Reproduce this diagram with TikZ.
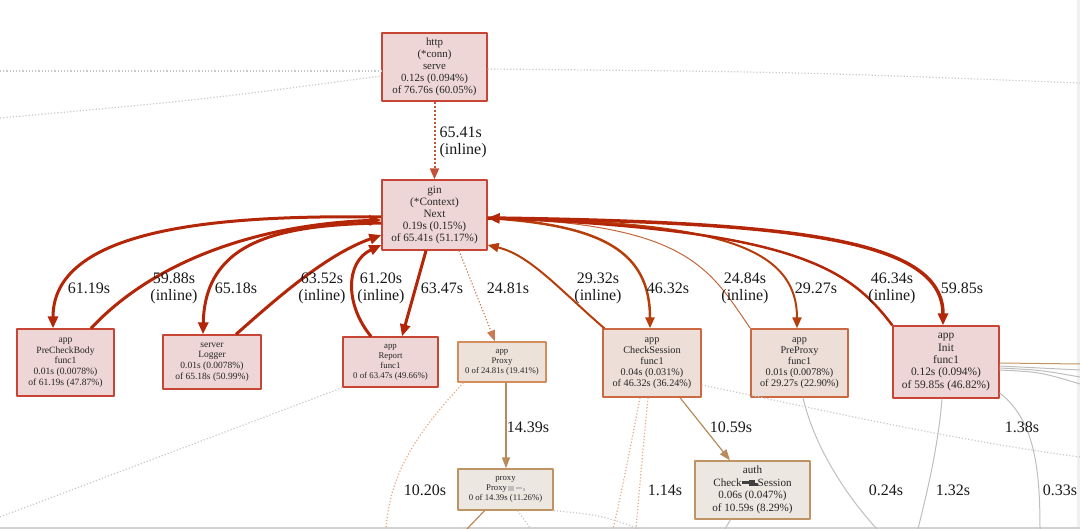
\documentclass[tikz,border=0pt]{standalone}
\usepackage{fontspec}
\setmainfont{Liberation Serif}
\usetikzlibrary{arrows.meta, calc}

\definecolor{hotfill}{RGB}{237,214,213}
\definecolor{hotline}{RGB}{200,68,52}
\definecolor{hotedge}{RGB}{180,38,8}
\definecolor{warmfill}{RGB}{237,222,215}
\definecolor{warmline}{RGB}{204,104,66}
\definecolor{warmedge}{RGB}{182,62,10}
\definecolor{midfill}{RGB}{237,226,217}
\definecolor{midline}{RGB}{212,140,92}
\definecolor{tanfill}{RGB}{236,231,225}
\definecolor{tanline}{RGB}{190,148,100}
\definecolor{tanedge}{RGB}{184,138,92}
\definecolor{coldline}{RGB}{190,190,190}
\definecolor{dotgray}{RGB}{200,200,200}
\definecolor{dotwarm}{RGB}{228,170,130}

\begin{document}
\begin{tikzpicture}[x=1pt, y=-1pt, line join=round,
    fn/.style={draw, line width=1.3pt, align=center, inner sep=1pt, text=black!85},
    hot/.style={fn, fill=hotfill, draw=hotline},
    warm/.style={fn, fill=warmfill, draw=warmline},
    mild/.style={fn, fill=midfill, draw=midline},
    cool/.style={fn, fill=tanfill, draw=tanline},
    fs/.style 2 args={font=\fontsize{#1}{#2}\selectfont},
    boxsize/.style 2 args={minimum width=#1, minimum height=#2},
    lbl/.style={font=\fontsize{16}{17}\selectfont, align=center, text=black!90},
    redge/.style={draw=hotedge, line width=#1, -{Triangle[length=12pt, width=10pt]}},
    oedge/.style={draw=warmedge, line width=#1, -{Triangle[length=11pt, width=9pt]}},
    tedge/.style={draw=tanedge, line width=1.2pt, -{Triangle[length=11pt, width=8pt]}},
    grayline/.style={draw=coldline, line width=1pt},
    dotg/.style={draw=dotgray, line width=1.2pt, dotted},
    dotw/.style={draw=dotwarm, line width=1.2pt, dotted}]
    \useasboundingbox (0,0) rectangle (1080,529);

    % 窗口边框
    \fill[gray!12] (1077,0) rectangle (1080,529);
    \draw[gray!35, line width=1.5pt] (0,528) -- (1080,528);

    % 函数节点
    \node[hot, boxsize={105}{68}, fs={10.9}{12}] (http) at (434.5,67) {http\\(*conn)\\serve\\0.12s (0.094\%)\\of 76.76s (60.05\%)};
    \node[hot, boxsize={105}{70}, fs={11.2}{12}] (gin) at (434.5,215) {gin\\(*Context)\\Next\\0.19s (0.15\%)\\of 65.41s (51.17\%)};
    \node[hot, boxsize={97}{67}, fs={9.6}{10.7}] (pcb) at (65.5,362.5) {app\\PreCheckBody\\func1\\0.01s (0.0078\%)\\of 61.19s (47.87\%)};
    \node[hot, boxsize={98}{54}, fs={9.5}{10.6}] (logger) at (212,362) {server\\Logger\\0.01s (0.0078\%)\\of 65.18s (50.99\%)};
    \node[hot, boxsize={95}{50}, fs={8.8}{10}] (report) at (390.5,362) {app\\Report\\func1\\0 of 63.47s (49.66\%)};
    \node[mild, boxsize={88}{40}, fs={8.7}{10}] (aproxy) at (502,362) {app\\Proxy\\0 of 24.81s (19.41\%)};
    \node[warm, boxsize={98}{68}, fs={10.2}{10.9}] (cs) at (652,363) {app\\CheckSession\\func1\\0.04s (0.031\%)\\of 46.32s (36.24\%)};
    \node[warm, boxsize={97}{68}, fs={10.2}{10.9}] (pp) at (799.5,363) {app\\PreProxy\\func1\\0.01s (0.0078\%)\\of 29.27s (22.90\%)};
    \node[hot, boxsize={106}{72}, fs={11.4}{12.3}] (init) at (946,362) {app\\Init\\func1\\0.12s (0.094\%)\\of 59.85s (46.82\%)};
    \node[cool, boxsize={95}{41}, fs={8.7}{10}] (pproxy) at (505.5,489.5) {proxy\\Proxy\,\textcolor{black!25}{\rule{6pt}{5pt}\,\rule[2pt]{6pt}{1.5pt}\,\rule{1.5pt}{3pt}}\\0 of 14.39s (11.26\%)};
    \node[cool, boxsize={115}{58}, fs={11.1}{12.5}] (auth) at (752.5,490) {auth\\Check\textcolor{black!75}{\rule[2pt]{7pt}{3pt}\rule{6pt}{6pt}\rule{3pt}{3pt}}Session\\0.06s (0.047\%)\\of 10.59s (8.29\%)};

    % 画面外的端点
    \coordinate (wl1) at (0,71);
    \coordinate (wl2) at (0,118);
    \coordinate (wr1) at (1080,83);
    \coordinate (b1) at (0,517);
    \coordinate (b2) at (386,529);
    \coordinate (b3) at (613,529);
    \coordinate (b4) at (636,529);
    \coordinate (b5) at (1080,457);
    \coordinate (b6) at (640,529);
    \coordinate (b7) at (531,529);
    \coordinate (b8) at (467,529);
    \coordinate (b9) at (725,529);
    \coordinate (b10) at (877,529);
    \coordinate (b11) at (918,529);
    \coordinate (b12) at (1040,529);
    \coordinate (r1) at (1080,364);
    \coordinate (r2) at (1080,370);
    \coordinate (r3) at (1080,377);
    \coordinate (r4) at (1080,384);

    % 虚线与灰线
    \draw[dotg] (wl1) -- ([yshift=-4pt]http.west);
    \draw[dotg] (wl2) .. controls (200,100) .. ([yshift=-9pt]http.west);
    \draw[dotg] ([yshift=-2pt]http.east) .. controls (800,72) .. (wr1);
    \draw[dotg] (b1) -- (report.south west);
    \draw[dotw] ([xshift=6pt]aproxy.south west) .. controls (420,430) and (390,470) .. (b2);
    \draw[dotw] ([xshift=-12pt]cs.south) .. controls (630,450) and (620,500) .. (b3);
    \draw[dotw] ([xshift=-4pt]cs.south) .. controls (642,460) .. (b4);
    \draw[dotg] ([yshift=-22pt]cs.east) .. controls (800,405) and (950,440) .. (b5);
    \draw[dotg] (pproxy.south east) .. controls (600,515) .. (b6);
    \draw[dotg] ([xshift=12pt]pproxy.south) -- (b7);
    \draw[draw=tanedge, line width=1.2pt] ([xshift=-21pt]pproxy.south) -- (b8);
    \draw[grayline] ([xshift=-22pt]auth.south) -- (b9);
    \draw[grayline] ([xshift=3.5pt]pp.south) .. controls (815,450) and (850,500) .. (b10);
    \draw[grayline] ([xshift=-4pt]init.south) .. controls (938,450) and (925,500) .. (b11);
    \draw[grayline] ([yshift=-31pt]init.east) .. controls (1035,420) and (1040,470) .. (b12);
    \draw[draw=tanline, line width=1pt] ([yshift=-1pt]init.east) -- (r1);
    \draw[grayline] ([yshift=-4pt]init.east) -- (r2);
    \draw[grayline] ([yshift=-6pt]init.east) .. controls (1040,370) .. (r3);
    \draw[grayline] ([yshift=-8pt]init.east) .. controls (1040,372) .. (r4);

    % 调用边
    \draw[draw=hotedge!80, line width=2pt, dotted, -{Triangle[length=11pt, width=9pt]}] (http.south) -- (gin.north);
    \draw[redge=3pt] ([yshift=-2pt]gin.west) .. controls (230,215) and (53,225) .. ([xshift=-12.5pt]pcb.north);
    \draw[redge=3pt] ([xshift=25.5pt]pcb.north) .. controls (150,265) and (250,225) .. ([yshift=-5pt]gin.west);
    \draw[redge=3pt] ([yshift=-8pt]gin.west) .. controls (280,225) and (205,240) .. ([xshift=-9pt]logger.north);
    \draw[redge=3pt] ([xshift=24pt]logger.north) .. controls (275,300) and (325,255) .. ([yshift=-20pt]gin.west);
    \draw[redge=3pt] ([xshift=-19.5pt]report.north) .. controls (345,305) and (345,262) .. ([yshift=-30pt]gin.west);
    \draw[redge=3pt] ([xshift=-8.5pt]gin.south) -- ([xshift=11.5pt]report.north);
    \draw[dotw, draw=warmedge!70, -{Triangle[length=11pt, width=8pt]}] ([xshift=24.5pt]gin.south) -- ([xshift=-7pt]aproxy.north);
    \draw[oedge=2pt] ([xshift=2pt]cs.north west) .. controls (560,290) and (530,255) .. ([yshift=-30pt]gin.east);
    \draw[oedge=2.5pt] ([yshift=-3pt]gin.east) .. controls (600,225) and (650,250) .. ([xshift=-2pt]cs.north);
    \draw[oedge=1pt, draw=warmedge!80] (pp.north west) .. controls (710,270) and (690,225) .. ([yshift=-3pt]gin.east);
    \draw[oedge=2pt] ([yshift=-3pt]gin.east) .. controls (700,222) and (797,240) .. ([xshift=-2.5pt]pp.north);
    \draw[redge=2.5pt] (init.north west) .. controls (850,270) and (800,230) .. ([yshift=-3pt]gin.east);
    \draw[redge=3.5pt] ([yshift=-3pt]gin.east) .. controls (800,222) and (943,240) .. ([xshift=-3pt]init.north);
    \draw[tedge] ([xshift=4pt]aproxy.south) -- ([xshift=0.5pt]pproxy.north);
    \draw[tedge] ([xshift=28pt]cs.south) -- ([xshift=-22.5pt]auth.north);

    % 边标签
    \node[lbl, anchor=west, align=left] (t0) at (436,142) {65.41s\\(inline)};
    \node[lbl] (t1) at (89,288) {61.19s};
    \node[lbl] (t2) at (174,288.5) {59.88s\\(inline)};
    \node[lbl] (t3) at (236,288) {65.18s};
    \node[lbl] (t4) at (322,288.5) {63.52s\\(inline)};
    \node[lbl] (t5) at (381,288.5) {61.20s\\(inline)};
    \node[lbl] (t6) at (442,288) {63.47s};
    \node[lbl] (t7) at (508,288) {24.81s};
    \node[lbl] (t8) at (598,288.5) {29.32s\\(inline)};
    \node[lbl] (t9) at (668,288) {46.32s};
    \node[lbl] (t10) at (745,288.5) {24.84s\\(inline)};
    \node[lbl] (t11) at (816,288) {29.27s};
    \node[lbl] (t12) at (892,288.5) {46.34s\\(inline)};
    \node[lbl] (t13) at (962,288) {59.85s};
    \node[lbl] (t14) at (528,427) {14.39s};
    \node[lbl] (t15) at (731,427) {10.59s};
    \node[lbl] (t16) at (425,490) {10.20s};
    \node[lbl] (t17) at (665,490) {1.14s};
    \node[lbl] (t18) at (886,490) {0.24s};
    \node[lbl] (t19) at (953,490) {1.32s};
    \node[lbl] (t20) at (1022,427) {1.38s};
    \node[lbl] (t21) at (1060,490) {0.33s};
\end{tikzpicture}
\end{document}
